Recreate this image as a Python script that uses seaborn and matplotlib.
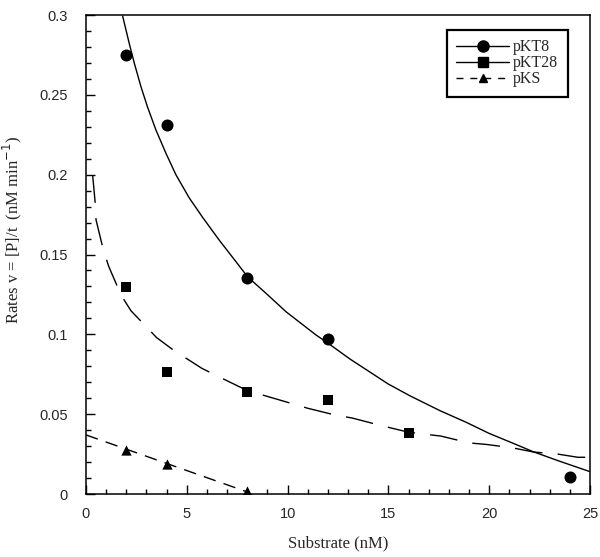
import matplotlib
matplotlib.use("Agg")
import matplotlib.pyplot as plt
from matplotlib.lines import Line2D
from matplotlib.ticker import MultipleLocator, FuncFormatter
import seaborn as sns

# measured points
kt8_x = [2, 4, 8, 12, 24]
kt8_y = [0.275, 0.231, 0.135, 0.097, 0.0105]
kt28_x = [2, 4, 8, 12, 16]
kt28_y = [0.1296, 0.0764, 0.0636, 0.0589, 0.0384]
ks_x = [2, 4, 8]
ks_y = [0.0276, 0.0188, 0.002]

# fitted curves
kt8_fit_x = [1.82, 2.15, 2.40, 2.73, 3.05, 3.47, 3.97, 4.46, 5.12, 5.79, 6.61, 7.44,
             8.02, 8.93, 9.92, 11.41, 12.0, 13.1, 14.98, 16.07, 17.56, 18.88, 19.99,
             21.2, 22.18, 23.5, 25.0]
kt8_fit_y = [0.2993, 0.282, 0.2697, 0.255, 0.2425, 0.228, 0.2133, 0.2, 0.1855,
             0.1732, 0.159, 0.1455, 0.136, 0.1257, 0.1142, 0.0996, 0.0945, 0.0845,
             0.069, 0.0615, 0.0522, 0.0448, 0.038, 0.0317, 0.0265, 0.0205, 0.014]
kt28_fit_x = [0.33, 0.46, 0.50, 0.86, 1.12, 1.74, 2.23, 3.5, 4.33, 5.75, 6.58, 7.77,
              8.76, 10.17, 11.0, 12.35, 13.2, 14.6, 15.9, 16.7, 17.6, 19.0, 19.9,
              21.2, 22.2, 23.4, 24.4, 25.0]
kt28_fit_y = [0.1997, 0.182, 0.1716, 0.153, 0.1428, 0.1246, 0.1148, 0.098, 0.0902,
              0.0787, 0.0735, 0.0662, 0.062, 0.0568, 0.0537, 0.0495, 0.0476, 0.043,
              0.039, 0.0376, 0.0363, 0.032, 0.031, 0.0288, 0.0263, 0.025, 0.023, 0.023]
ks_fit_x = [0.0, 8.0]
ks_fit_y = [0.037, 0.0013]

sns.set_style("white")
plt.rcParams["font.family"] = ["Liberation Serif", "DejaVu Serif"]

fig = plt.figure(figsize=(6, 5.57), dpi=100)
ax = fig.add_axes([0.1433, 0.1131, 0.84, 0.8599])

sns.lineplot(x=kt8_fit_x, y=kt8_fit_y, ax=ax, color="black", lw=1.0,
             sort=False, estimator=None)
sns.lineplot(x=kt28_fit_x, y=kt28_fit_y, ax=ax, color="black", lw=1.0,
             sort=False, estimator=None, linestyle=(0, (20, 11)))
sns.lineplot(x=ks_fit_x, y=ks_fit_y, ax=ax, color="black", lw=1.0,
             sort=False, estimator=None, linestyle=(0, (9, 6)))

sns.scatterplot(x=kt8_x, y=kt8_y, ax=ax, marker="o", s=75, color="black",
                edgecolor="black", linewidth=0, zorder=3)
sns.scatterplot(x=kt28_x, y=kt28_y, ax=ax, marker="s", s=60, color="black",
                edgecolor="black", linewidth=0, zorder=3)
sns.scatterplot(x=ks_x, y=ks_y, ax=ax, marker="^", s=55, color="black",
                edgecolor="black", linewidth=0, zorder=3)

ax.set_xlim(0, 25)
ax.set_ylim(0, 0.3)
ax.xaxis.set_major_locator(MultipleLocator(5))
ax.xaxis.set_minor_locator(MultipleLocator(1))
ax.yaxis.set_major_locator(MultipleLocator(0.05))
ax.yaxis.set_minor_locator(MultipleLocator(0.01))
ax.yaxis.set_major_formatter(FuncFormatter(lambda v, p: "%g" % round(v, 3)))
ax.tick_params(which="both", direction="in", bottom=True, left=True,
               top=False, right=False, width=1, color="black")
ax.tick_params(which="major", length=6.5, labelsize=10.5)
ax.tick_params(which="minor", length=3.6)
ax.tick_params(axis="x", which="major", pad=9)
ax.tick_params(axis="y", which="major", pad=13)
for lab in ax.get_xticklabels() + ax.get_yticklabels():
    lab.set_family(["Liberation Sans", "DejaVu Sans"])
for sp in ax.spines.values():
    sp.set_color("black")
    sp.set_linewidth(1.1)

ax.set_xlabel("Substrate (nM)", fontsize=12, labelpad=11)
ax.set_ylabel("Rates v = [P]/t  (nM min$^{-1}$)", fontsize=12)
ax.yaxis.set_label_coords(-0.122, 0.551)

handles = [
    Line2D([], [], color="black", lw=1, marker="o", markersize=8),
    Line2D([], [], color="black", lw=1, marker="s", markersize=7),
    Line2D([], [], color="black", lw=1, marker="^", markersize=6, linestyle=(0, (5, 5))),
]
leg = ax.legend(handles, ["pKT8", "pKT28", "pKS"], loc="upper right",
                bbox_to_anchor=(0.956, 0.969), borderaxespad=0, fontsize=11.5,
                labelspacing=0.0, handlelength=3.3, handletextpad=0.25,
                borderpad=0.6, fancybox=False, framealpha=1, edgecolor="black")
leg.get_frame().set_linewidth(1.6)

fig.savefig("out.png", dpi=100)
